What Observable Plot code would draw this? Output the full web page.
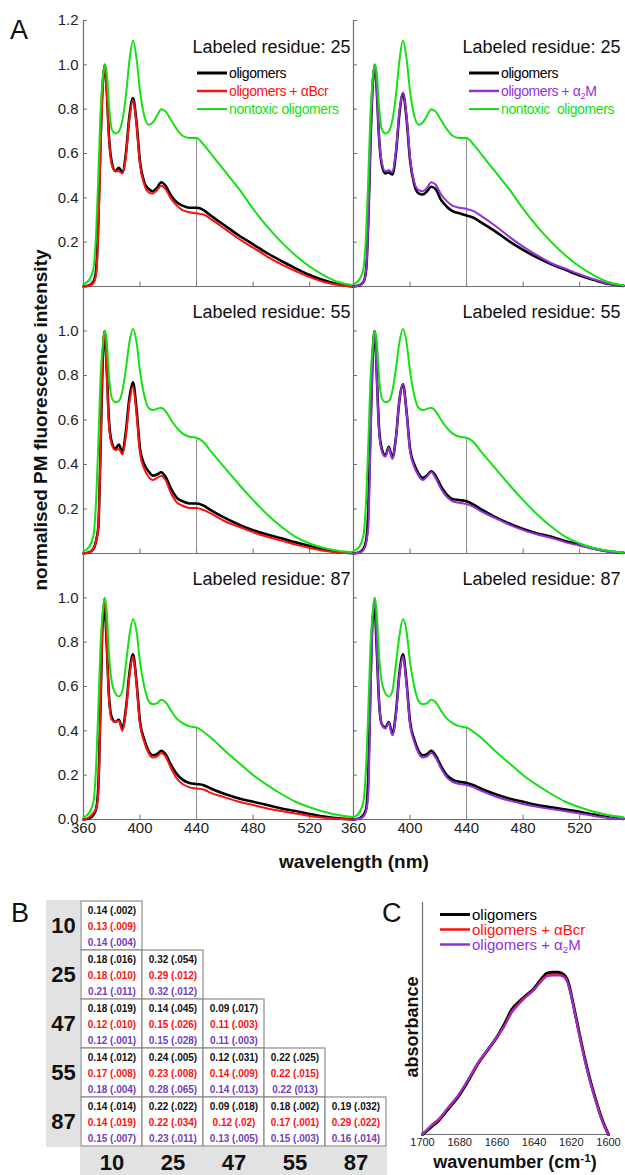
<!DOCTYPE html>
<html><head><meta charset="utf-8">
<script src="https://cdn.jsdelivr.net/npm/d3@7"></script>
<script src="https://cdn.jsdelivr.net/npm/@observablehq/plot@0.6"></script>
<style>
body{margin:0;background:#fff;}
#fig{position:relative;width:625px;height:1175px;overflow:hidden;font-family:"Liberation Sans",Arial,sans-serif;background:#fff;color:#111;}
.abs{position:absolute;white-space:pre;line-height:1;}
.plabel{position:absolute;font-size:27px;line-height:1;}
.leg{position:absolute;display:flex;align-items:center;white-space:pre;line-height:1;}
.leg svg{margin-right:2px;}
sub{font-size:0.65em;vertical-align:baseline;position:relative;top:0.3em;}
sup{font-size:0.65em;vertical-align:baseline;position:relative;top:-0.55em;}
.title{position:absolute;font-weight:bold;white-space:nowrap;line-height:1;transform:translate(-50%,-50%);}
.titleV{position:absolute;font-weight:bold;white-space:nowrap;line-height:1;transform:translate(-50%,-50%) rotate(-90deg);}
</style></head><body><div id="fig"></div>
<script>
// ---------- Panel A data ----------
const wl = [360,364,367,369,370.5,372,373.5,375,376.5,378,380,382.5,385,387.5,390,392.5,395,397.5,400,403,406,409,412,415,418,422,426,430,435,440,445,450,460,470,480,490,500,510,520,530,540,551];
const residues = [25, 55, 87];
const green25 = [0.01,0.03,0.08,0.25,0.5,0.78,0.93,1.0,0.96,0.82, 0.71,0.69,0.70,0.75,0.86,1.02,1.11,1.03,0.88,0.77, 0.73,0.74,0.77,0.80,0.79,0.75,0.71,0.68,0.67,0.67, 0.64,0.60,0.52,0.44,0.35,0.27,0.20,0.14,0.09,0.05, 0.02,0.005];
const black25L = [0,0.005,0.02,0.08,0.3,0.65,0.9,1.0,0.88,0.68, 0.56,0.52,0.535,0.515,0.6,0.77,0.85,0.74,0.56,0.47, 0.44,0.43,0.445,0.47,0.455,0.41,0.38,0.365,0.355,0.355, 0.345,0.32,0.275,0.23,0.19,0.15,0.115,0.082,0.052,0.028, 0.01,0];
const red25 = [0,0.003,0.015,0.06,0.25,0.6,0.88,1.0,0.87,0.67, 0.55,0.52,0.52,0.51,0.59,0.76,0.84,0.73,0.55,0.46, 0.425,0.42,0.435,0.455,0.44,0.395,0.365,0.345,0.335,0.33, 0.325,0.305,0.26,0.215,0.175,0.135,0.1,0.07,0.042,0.02, 0.007,0];
const black25R = [0,0.005,0.02,0.08,0.3,0.65,0.9,1.0,0.88,0.68, 0.55,0.51,0.515,0.505,0.6,0.78,0.87,0.76,0.57,0.46, 0.42,0.415,0.43,0.45,0.44,0.39,0.36,0.34,0.33,0.32, 0.31,0.29,0.25,0.205,0.165,0.13,0.1,0.075,0.05,0.03, 0.012,0.003];
const purple25 = [0,0.005,0.02,0.08,0.3,0.65,0.9,1.0,0.88,0.68, 0.56,0.52,0.525,0.515,0.61,0.79,0.875,0.77,0.58,0.47, 0.435,0.43,0.445,0.47,0.46,0.415,0.385,0.365,0.355,0.35, 0.34,0.32,0.275,0.225,0.18,0.14,0.105,0.08,0.055,0.032, 0.013,0.003];
const green55 = [0.01,0.03,0.08,0.25,0.5,0.78,0.93,1.0,0.95,0.8, 0.70,0.68,0.685,0.73,0.83,0.95,1.01,0.95,0.82,0.71, 0.655,0.645,0.65,0.655,0.64,0.60,0.565,0.54,0.525,0.52, 0.50,0.46,0.385,0.31,0.24,0.175,0.12,0.075,0.045,0.025, 0.012,0.005];
const black55L = [0,0.005,0.02,0.06,0.12,0.45,0.85,1.0,0.82,0.6, 0.5,0.47,0.49,0.455,0.55,0.7,0.77,0.65,0.47,0.40, 0.37,0.35,0.355,0.365,0.345,0.29,0.25,0.235,0.225,0.225, 0.215,0.195,0.16,0.13,0.105,0.085,0.068,0.05,0.035,0.018, 0.007,0.002];
const red55 = [0,0.005,0.02,0.06,0.12,0.45,0.88,1.0,0.8,0.58, 0.49,0.465,0.47,0.445,0.53,0.68,0.75,0.63,0.45,0.38, 0.345,0.33,0.34,0.35,0.33,0.27,0.23,0.215,0.205,0.205, 0.195,0.18,0.145,0.12,0.095,0.075,0.058,0.04,0.025,0.012, 0.004,0.001];
const black55R = [0,0.005,0.02,0.06,0.2,0.55,0.88,1.0,0.8,0.57, 0.47,0.44,0.48,0.43,0.52,0.69,0.76,0.64,0.47,0.40, 0.36,0.34,0.35,0.37,0.35,0.30,0.265,0.245,0.24,0.235, 0.22,0.2,0.165,0.135,0.11,0.09,0.075,0.055,0.04,0.022, 0.01,0.003];
const purple55 = [0,0.003,0.015,0.05,0.12,0.5,0.88,1.0,0.79,0.56, 0.46,0.435,0.475,0.425,0.52,0.69,0.76,0.64,0.46,0.39, 0.35,0.33,0.345,0.365,0.34,0.29,0.255,0.235,0.228,0.222, 0.21,0.19,0.16,0.13,0.105,0.085,0.07,0.05,0.035,0.02, 0.008,0.002];
const green87 = [0.01,0.03,0.08,0.25,0.5,0.78,0.93,1.0,0.93,0.75, 0.62,0.57,0.555,0.58,0.70,0.83,0.905,0.85,0.71,0.60, 0.535,0.52,0.525,0.54,0.53,0.49,0.455,0.435,0.42,0.415, 0.395,0.37,0.31,0.255,0.2,0.155,0.115,0.08,0.055,0.035, 0.02,0.01];
const black87L = [0,0.005,0.02,0.05,0.15,0.5,0.88,0.95,0.78,0.56, 0.46,0.44,0.45,0.41,0.5,0.66,0.745,0.62,0.44,0.36, 0.31,0.29,0.295,0.31,0.295,0.245,0.205,0.18,0.165,0.16, 0.155,0.14,0.115,0.095,0.08,0.065,0.05,0.038,0.025,0.013, 0.005,0.001];
const red87 = [0,0.01,0.03,0.05,0.12,0.5,0.9,1.0,0.78,0.55, 0.45,0.44,0.445,0.40,0.49,0.65,0.735,0.61,0.43,0.35, 0.30,0.28,0.285,0.30,0.285,0.23,0.185,0.16,0.145,0.14, 0.135,0.12,0.10,0.08,0.065,0.05,0.038,0.027,0.016,0.008, 0.003,0];
const black87R = [0,0.005,0.02,0.05,0.2,0.6,0.9,0.95,0.76,0.54, 0.43,0.415,0.44,0.385,0.48,0.66,0.745,0.62,0.44,0.36, 0.31,0.29,0.295,0.31,0.29,0.24,0.2,0.18,0.17,0.165, 0.155,0.14,0.115,0.095,0.08,0.065,0.055,0.045,0.035,0.022, 0.01,0.003];
const purple87 = [0,0.003,0.012,0.04,0.12,0.55,0.9,1.0,0.78,0.54, 0.43,0.41,0.435,0.38,0.47,0.65,0.735,0.61,0.43,0.35, 0.30,0.28,0.285,0.30,0.28,0.23,0.19,0.17,0.16,0.155, 0.145,0.13,0.105,0.085,0.07,0.057,0.047,0.037,0.027,0.016, 0.007,0.002];
const xTickValues = [360, 400, 440, 480, 520];

// ---------- Panel B data ----------
const rowsB = ["10", "25", "47", "55", "87"];
const colsB = ["10", "25", "47", "55", "87"];
const bBlack = [["0.14 (.002)"],["0.18 (.016)","0.32 (.054)"],["0.18 (.019)","0.14 (.045)","0.09 (.017)"],["0.14 (.012)","0.24 (.005)","0.12 (.031)","0.22 (.025)"],["0.14 (.014)","0.22 (.022)","0.09 (.018)","0.18 (.002)","0.19 (.032)"]];
const bRed = [["0.13 (.009)"],["0.18 (.010)","0.29 (.012)"],["0.12 (.010)","0.15 (.026)","0.11 (.003)"],["0.17 (.008)","0.23 (.008)","0.14 (.009)","0.22 (.015)"],["0.14 (.019)","0.22 (.034)","0.12 (.02)","0.17 (.001)","0.29 (.022)"]];
const bPurple = [["0.14 (.004)"],["0.21 (.011)","0.32 (.012)"],["0.12 (.001)","0.15 (.028)","0.11 (.003)"],["0.18 (.004)","0.28 (.065)","0.14 (.013)","0.22 (013)"],["0.15 (.007)","0.23 (.011)","0.13 (.005)","0.15 (.003)","0.16 (.014)"]];

// ---------- Panel C data ----------
const wn = [1700,1696,1691,1686,1681,1676,1670,1665,1660,1656,1652,1648,1644,1640,1636,1633,1630,1627,1624,1622,1620,1618,1616,1613,1610,1607,1604,1602,1600];
const absBlack = [0,0.04,0.09,0.16,0.23,0.32,0.44,0.52,0.60,0.68,0.77,0.82,0.86,0.90,0.96,0.995,1.0,1.0,0.985,0.95,0.86,0.75,0.64,0.48,0.34,0.22,0.11,0.05,0];
const absRed = [0,0.045,0.095,0.165,0.235,0.325,0.44,0.52,0.60,0.67,0.76,0.81,0.855,0.895,0.95,0.98,0.985,0.985,0.975,0.94,0.855,0.745,0.635,0.475,0.335,0.215,0.105,0.048,0];
const absPurple = [0,0.05,0.10,0.17,0.24,0.33,0.445,0.525,0.60,0.665,0.75,0.805,0.85,0.89,0.945,0.975,0.98,0.98,0.97,0.935,0.85,0.74,0.63,0.47,0.33,0.21,0.1,0.045,0];
const wnTicks = [1700, 1680, 1660, 1640, 1620, 1600];

// ---------- styles ----------
const GREEN = "#14e014", RED = "#ff1010", PURPLE = "#9430d8", BLACK = "#000";
const AXIS = "#6e6e6e";
const FONT = "'Liberation Sans', Arial, sans-serif";
const fig = document.getElementById("fig");

function place(el, left, top) {
  el.style.position = "absolute";
  el.style.left = left + "px";
  el.style.top = top + "px";
  fig.appendChild(el);
}
function addDiv(cls, html, left, top, extra) {
  const d = document.createElement("div");
  d.className = cls;
  d.innerHTML = html;
  d.style.left = left + "px";
  d.style.top = top + "px";
  if (extra) Object.assign(d.style, extra);
  fig.appendChild(d);
  return d;
}
const rowsOf = (xs, vals, key) => xs.map((x, i) => ({[key]: x, v: vals[i]}));

// ---------- Panel A ----------
const series = {
  25: {green: green25, L: [black25L, red25], R: [black25R, purple25]},
  55: {green: green55, L: [black55L, red55], R: [black55R, purple55]},
  87: {green: green87, L: [black87L, red87], R: [black87R, purple87]}
};
const rowGeom = [
  {top: 0, mt: 20, ph: 266, mb: 0, labels: [0.2,0.4,0.6,0.8,1.0,1.2], ticks: [0.2,0.4,0.6,0.8,1.0,1.2], dy: 20},
  {top: 286, mt: 0, ph: 267, mb: 0, labels: [0.2,0.4,0.6,0.8,1.0], ticks: [0.2,0.4,0.6,0.8,1.0], dy: 19},
  {top: 553, mt: 0, ph: 266, mb: 30, labels: [0,0.2,0.4,0.6,0.8,1.0], ticks: [0.2,0.4,0.6,0.8,1.0], dy: 19}
];

residues.forEach((res, ri) => {
  const g = rowGeom[ri];
  [0, 1].forEach(col => {
    const s = series[res];
    const [blk, oth] = col === 0 ? s.L : s.R;
    const othColor = col === 0 ? RED : PURPLE;
    const greenRows = rowsOf(wl, s.green, "wl");
    const marks = [
      Plot.ruleX([360], {stroke: AXIS, strokeWidth: 1.2}),
      Plot.ruleY([0], {stroke: AXIS, strokeWidth: 1.2}),
      Plot.ruleY(g.ticks, {y: d => d, x1: 360, x2: 362.8, stroke: AXIS}),
      Plot.ruleX(xTickValues.slice(1), {x: d => d, y1: 0, y2: 0.02, stroke: AXIS}),
      Plot.ruleX(greenRows.filter(d => d.wl === 440), {x: "wl", y1: 0, y2: "v", stroke: "#8a8a8a", strokeWidth: 1}),
      Plot.line(rowsOf(wl, blk, "wl"), {x: "wl", y: "v", stroke: BLACK, strokeWidth: 2.6, curve: "monotone-x"}),
      Plot.line(rowsOf(wl, oth, "wl"), {x: "wl", y: "v", stroke: othColor, strokeWidth: 2, curve: "monotone-x"}),
      Plot.line(greenRows, {x: "wl", y: "v", stroke: GREEN, strokeWidth: 2, curve: "monotone-x"}),
      Plot.text([`Labeled residue: ${res}`], {frameAnchor: "top-right", dx: -3, dy: g.dy, fontSize: 18, fill: "#111"})
    ];
    if (col === 0) marks.push(Plot.axisY(g.labels, {label: null, tickSize: 0, tickPadding: 5, tickFormat: d3.format(".1f"), fontSize: 15, fill: "#222"}));
    if (ri === 2) marks.push(Plot.axisX(xTickValues, {label: null, tickSize: 0, tickPadding: 3, fontSize: 15, fill: "#222"}));
    const chart = Plot.plot({
      width: col === 0 ? 353 : 272,
      height: g.mt + g.ph + g.mb,
      marginLeft: col === 0 ? 83 : 0,
      marginRight: col === 0 ? 0 : 2,
      marginTop: g.mt,
      marginBottom: g.mb,
      x: {domain: [360, 551], axis: null, label: null},
      y: {domain: [0, 1.2], axis: null, label: null},
      style: {background: "none", overflow: "visible", fontFamily: FONT, color: "#222"},
      marks
    });
    place(chart, col === 0 ? 0 : 353, g.top);
  });
});

// Panel A legends
function legend(x, y, items, fontSize, gap, lineW, letterSpacing) {
  items.forEach((it, i) => {
    const d = addDiv("leg", "", x, y + i * gap, {fontSize: fontSize + "px", color: it.color, letterSpacing: letterSpacing || "0", transform: "translateY(-50%)"});
    d.innerHTML = `<svg width="${lineW}" height="6"><line x1="0" y1="3" x2="${lineW}" y2="3" stroke="${it.color}" stroke-width="${it.w || 2.5}"/></svg><span>${it.text}</span>`;
  });
}
legend(197, 73, [
  {text: "oligomers", color: BLACK, w: 3},
  {text: "oligomers + αBcr", color: RED},
  {text: "nontoxic oligomers", color: GREEN, w: 2}
], 14, 18, 30, "-0.4px");
legend(469, 73, [
  {text: "oligomers", color: BLACK, w: 3},
  {text: "oligomers + α<sub>2</sub>M", color: PURPLE},
  {text: "nontoxic  oligomers", color: GREEN, w: 2}
], 14, 18, 30, "-0.4px");

addDiv("plabel", "A", 10, 17);
addDiv("titleV", "normalised PM fluorescence intensity", 40, 420, {fontSize: "19px"});
addDiv("title", "wavelength (nm)", 354, 861, {fontSize: "19px"});

// ---------- Panel B ----------
addDiv("abs", "", 46, 900, {width: "34px", height: "247px", background: "#e2e2e2"});
addDiv("abs", "", 80, 1147, {width: "307px", height: "28px", background: "#e2e2e2"});
const cellData = [];
rowsB.forEach((r, i) => colsB.forEach((c, j) => {
  if (j <= i) cellData.push({row: r, col: c, k: bBlack[i][j], r: bRed[i][j], p: bPurple[i][j]});
}));
const tableB = Plot.plot({
  width: 400, height: 285,
  marginLeft: 80, marginRight: 13, marginTop: 10, marginBottom: 29,
  x: {domain: colsB, padding: 0, label: null},
  y: {domain: rowsB, padding: 0, label: null},
  style: {background: "none", overflow: "visible", fontFamily: FONT, color: "#111"},
  marks: [
    Plot.cell(cellData, {x: "col", y: "row", fill: "white", stroke: "#8c8c8c", strokeWidth: 1.2}),
    Plot.text(cellData, {x: "col", y: "row", text: "k", dy: -15.5, fill: "#111", fontSize: 10, fontWeight: "bold"}),
    Plot.text(cellData, {x: "col", y: "row", text: "r", dy: 0.5, fill: "#ff1010", fontSize: 10, fontWeight: "bold"}),
    Plot.text(cellData, {x: "col", y: "row", text: "p", dy: 17, fill: "#7240c0", fontSize: 10, fontWeight: "bold"}),
    Plot.axisY({label: null, tickSize: 0, tickPadding: 17, textAnchor: "middle", fontSize: 22, fontWeight: "bold", fill: "#111"}),
    Plot.axisX({label: null, tickSize: 0, tickPadding: 8, fontSize: 22, fontWeight: "bold", fill: "#111"})
  ]
});
place(tableB, 0, 890);
addDiv("plabel", "B", 11, 900);

// ---------- Panel C ----------
const chartC = Plot.plot({
  width: 245, height: 285,
  marginLeft: 42, marginRight: 17, marginTop: 12, marginBottom: 41,
  x: {domain: [1700, 1600], axis: null, label: null},
  y: {domain: [0, 1.43], axis: null, label: null},
  style: {background: "none", overflow: "visible", fontFamily: FONT, color: "#222"},
  marks: [
    Plot.ruleX([1700], {stroke: AXIS, strokeWidth: 1.2}),
    Plot.ruleY([0], {stroke: AXIS, strokeWidth: 1.2}),
    Plot.axisX(wnTicks, {label: null, tickSize: 0, tickPadding: 4, fontSize: 11, fill: "#222", tickFormat: d3.format("d")}),
    Plot.line(rowsOf(wn, absBlack, "wn"), {x: "wn", y: "v", stroke: BLACK, strokeWidth: 3, curve: "monotone-x"}),
    Plot.line(rowsOf(wn, absRed, "wn"), {x: "wn", y: "v", stroke: RED, strokeWidth: 2, curve: "monotone-x"}),
    Plot.line(rowsOf(wn, absPurple, "wn"), {x: "wn", y: "v", stroke: PURPLE, strokeWidth: 2, curve: "monotone-x"})
  ]
});
place(chartC, 380, 890);
legend(440, 914, [
  {text: "oligomers", color: BLACK, w: 3},
  {text: "oligomers + αBcr", color: RED},
  {text: "oligomers + α<sub>2</sub>M", color: PURPLE}
], 15, 15, 30, "0");
addDiv("plabel", "C", 382, 900);
addDiv("titleV", "absorbance", 412, 1027, {fontSize: "18px"});
addDiv("title", "wavenumber (cm<sup>-1</sup>)", 515, 1162, {fontSize: "18px"});
</script></body></html>
